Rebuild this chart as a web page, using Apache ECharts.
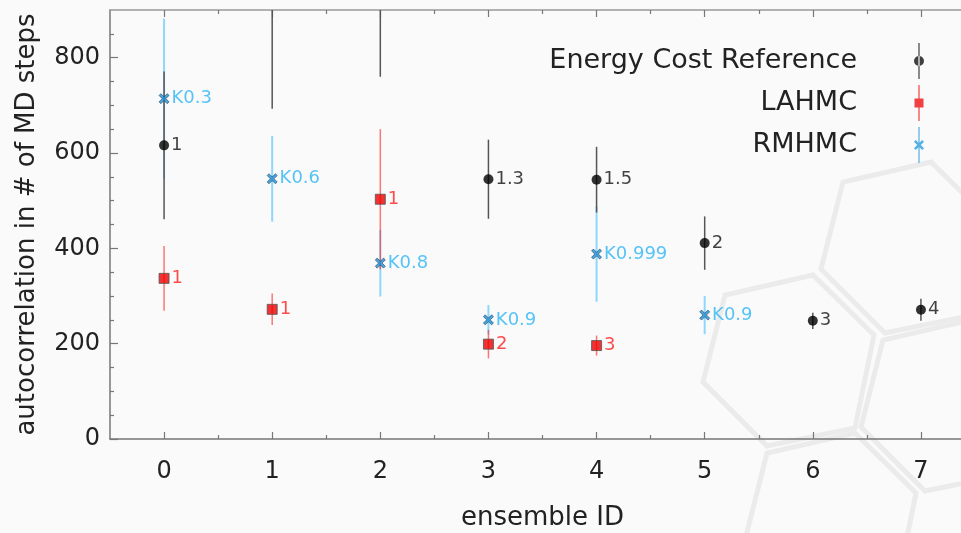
<!DOCTYPE html>
<html>
<head>
<meta charset="utf-8">
<script src="https://cdn.jsdelivr.net/npm/echarts@6/dist/echarts.min.js"></script>
<style>
html, body { margin: 0; padding: 0; background: #fafafa; }
#chart { width: 961px; height: 533px; }
</style>
</head>
<body>
<div id="chart"></div>
<script>
const font = 'DejaVu Sans'

// ensemble IDs / tick positions
const ensembleIds = [0, 1, 2, 3, 4, 5, 6, 7]
const xMinor = [0.5, 1.5, 2.5, 3.5, 4.5, 5.5, 6.5]
const yTicks = [0, 200, 400, 600, 800]
const yMinor = [50, 100, 150, 250, 300, 350, 450, 500, 550, 650, 700, 750, 850]

// Energy Cost Reference (ID 1 and 2 sit above the plot, only their bars reach in)
const refX = [0, 1, 2, 3, 4, 5, 6, 7]
const refY = [616, 1000, 1000, 545, 544, 411, 248, 271]
const refErr = [155, 307, 240, 83, 69, 56, 17, 23]
const refLabels = ['1', '', '', '1.3', '1.5', '2', '3', '4']

// LAHMC
const lahmcX = [0, 1, 2, 3, 4]
const lahmcY = [337, 272, 503, 199, 196]
const lahmcErr = [68, 33, 147, 30, 21]
const lahmcLabels = ['1', '1', '1', '2', '3']

// RMHMC
const rmhmcX = [0, 1, 2, 3, 4, 5]
const rmhmcY = [714, 546, 369, 250, 388, 260]
const rmhmcErr = [168, 90, 70, 31, 100, 40]
const rmhmcLabels = ['K0.3', 'K0.6', 'K0.8', 'K0.9', 'K0.999', 'K0.9']

const xMark = 'path://M0,1.8 L1.8,0 L5,3.2 L8.2,0 L10,1.8 L6.8,5 L10,8.2 L8.2,10 L5,6.8 L1.8,10 L0,8.2 L3.2,5 Z'
const bar = 'M5.4,0 L6.6,0 L6.6,36 L5.4,36 Z '
const iconRef = 'path://' + bar + 'M1,18 A5,5 0 1,0 11,18 A5,5 0 1,0 1,18 Z'
const iconLa = 'path://' + bar + 'M1.5,13.5 L10.5,13.5 L10.5,22.5 L1.5,22.5 Z'
const iconRm = 'path://' + bar + 'M1,14.8 L2.8,13 L6,16.2 L9.2,13 L11,14.8 L7.8,18 L11,21.2 L9.2,23 L6,19.8 L2.8,23 L1,21.2 L4.2,18 Z'

const errorSeries = (name, xs, ys, errs, color, width) => ({
  name: name,
  type: 'custom',
  clip: true,
  silent: true,
  z: 2,
  data: xs.map((x, i) => [x, ys[i] - errs[i], ys[i] + errs[i]]),
  renderItem: (params, api) => {
    const lo = api.coord([api.value(0), api.value(1)])
    const hi = api.coord([api.value(0), api.value(2)])
    return {
      type: 'line',
      shape: { x1: lo[0], y1: lo[1], x2: hi[0], y2: hi[1] },
      style: { stroke: color, lineWidth: width }
    }
  }
})

const pointSeries = (name, xs, ys, labels, symbol, size, itemStyle, labelColor) => ({
  name: name,
  type: 'scatter',
  clip: true,
  z: 5,
  symbol: symbol,
  symbolSize: size,
  itemStyle: itemStyle,
  label: {
    show: true,
    position: 'right',
    distance: 2,
    formatter: p => labels[p.dataIndex],
    color: labelColor,
    fontSize: 18,
    fontFamily: font
  },
  data: xs.map((x, i) => [x, ys[i]])
})

const hex = (dx, dy) => [[703, 382], [725, 295], [813, 275], [874, 335], [855, 428], [767, 446]]
  .map(p => [p[0] + dx, p[1] + dy])

const tickLine = { color: '#777', width: 1.2 }

const chart = echarts.init(document.getElementById('chart'))

chart.setOption({
  backgroundColor: '#fafafa',
  animation: false,
  graphic: [[0, 0], [118, -113], [158, 45], [42, 158]].map(d => ({
    type: 'polygon',
    silent: true,
    z: -10,
    shape: { points: hex(d[0], d[1]) },
    style: { fill: 'none', stroke: '#ebebeb', lineWidth: 5 }
  })),
  grid: { left: 110, right: -14, top: 10, bottom: 94, containLabel: false, outerBoundsMode: 'none' },
  legend: {
    orient: 'vertical',
    right: 32,
    top: 38,
    align: 'right',
    itemWidth: 12,
    itemHeight: 36,
    itemGap: 6,
    selectedMode: false,
    itemStyle: { borderWidth: 0 },
    textStyle: { fontSize: 27, color: '#222', fontFamily: font, padding: [0, 51, 0, 0] },
    data: [
      { name: 'Energy Cost Reference', icon: iconRef, itemStyle: { color: '#111', borderWidth: 0 } },
      { name: 'LAHMC', icon: iconLa, itemStyle: { color: '#ee1111', borderWidth: 0 } },
      { name: 'RMHMC', icon: iconRm, itemStyle: { color: '#2a9ee0', borderWidth: 0 } }
    ]
  },
  xAxis: [
    {
      type: 'value', min: -0.5, max: 7.5, interval: 0.5, position: 'bottom',
      name: 'ensemble ID', nameLocation: 'middle', nameGap: 66,
      nameTextStyle: { fontSize: 26, color: '#222', fontFamily: font },
      axisLine: { onZero: false, lineStyle: { color: '#777', width: 1.5 } },
      axisTick: { inside: true, length: 7, customValues: ensembleIds, lineStyle: tickLine },
      axisLabel: { customValues: ensembleIds, fontSize: 24, color: '#222', fontFamily: font, margin: 21 },
      splitLine: { show: false }
    },
    {
      type: 'value', min: -0.5, max: 7.5, interval: 0.5, position: 'bottom',
      axisLine: { show: false, onZero: false },
      axisTick: { inside: true, length: 4, customValues: xMinor, lineStyle: tickLine },
      axisLabel: { show: false },
      splitLine: { show: false }
    },
    {
      type: 'value', min: -0.5, max: 7.5, interval: 0.5, position: 'top',
      axisLine: { onZero: false, lineStyle: { color: '#999', width: 1.5 } },
      axisTick: { inside: true, length: 7, customValues: ensembleIds, lineStyle: tickLine },
      axisLabel: { show: false },
      splitLine: { show: false }
    },
    {
      type: 'value', min: -0.5, max: 7.5, interval: 0.5, position: 'top',
      axisLine: { show: false, onZero: false },
      axisTick: { inside: true, length: 4, customValues: xMinor, lineStyle: tickLine },
      axisLabel: { show: false },
      splitLine: { show: false }
    }
  ],
  yAxis: [
    {
      type: 'value', min: 0, max: 900, interval: 100, position: 'left',
      name: 'autocorrelation in # of MD steps', nameLocation: 'middle', nameGap: 70,
      nameTextStyle: { fontSize: 26, color: '#222', fontFamily: font },
      axisLine: { show: true, onZero: false, lineStyle: { color: '#777', width: 1.5 } },
      axisTick: { show: true, inside: true, length: 8, customValues: yTicks, lineStyle: tickLine },
      axisLabel: { customValues: yTicks, fontSize: 24, color: '#222', fontFamily: font, margin: 10 },
      splitLine: { show: false }
    },
    {
      type: 'value', min: 0, max: 900, interval: 100, position: 'left',
      axisLine: { show: false, onZero: false },
      axisTick: { show: true, inside: true, length: 4, customValues: yMinor, lineStyle: tickLine },
      axisLabel: { show: false },
      splitLine: { show: false }
    }
  ],
  series: [
    errorSeries('RMHMC error', rmhmcX, rmhmcY, rmhmcErr, '#8fd6fb', 2),
    errorSeries('LAHMC error', lahmcX, lahmcY, lahmcErr, 'rgba(255,30,30,0.6)', 1.5),
    errorSeries('Reference error', refX, refY, refErr, '#555', 1.5),
    pointSeries('Energy Cost Reference', refX, refY, refLabels, 'circle', 10,
      { color: '#000' }, '#111'),
    pointSeries('LAHMC', lahmcX, lahmcY, lahmcLabels, 'rect', 10,
      { color: '#ee0000', borderColor: '#555', borderWidth: 1 }, '#ff2020'),
    pointSeries('RMHMC', rmhmcX, rmhmcY, rmhmcLabels, xMark, 10,
      { color: '#1e8fd6', borderColor: '#234a63', borderWidth: 0.8 }, '#2cb5f5')
  ]
})
</script>
</body>
</html>
